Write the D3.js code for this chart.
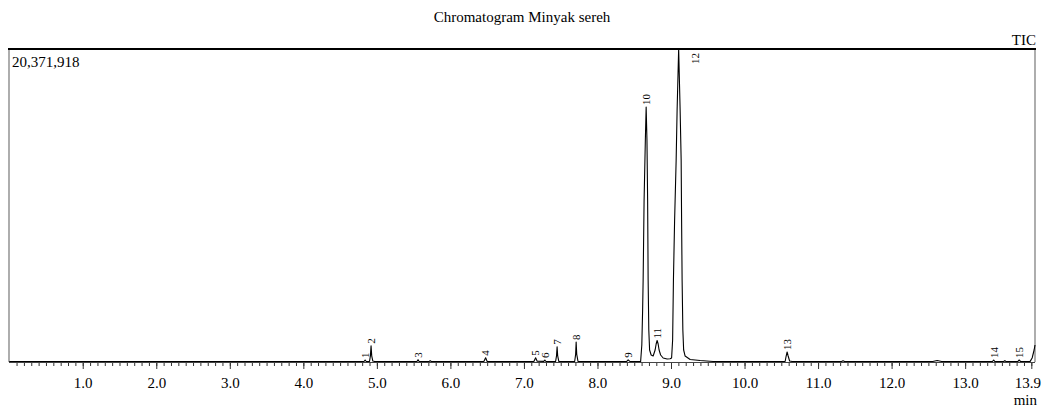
<!DOCTYPE html>
<html>
<head>
<meta charset="utf-8">
<script src="https://cdn.jsdelivr.net/npm/d3@7"></script>
<style>
  body { margin: 0; background: #fff; }
  svg text { font-family: "Liberation Serif", "Times New Roman", serif; fill: #000; }
</style>
</head>
<body>
<div id="chart"></div>
<script>
// chart data
const title = "Chromatogram Minyak sereh";
const channel = "TIC";
const maxIntensity = 20371918;
const timeEnd = 13.95;

// TIC trace: retention time (min) and intensity (counts)
const traceTime = [
  0.00, 4.825, 4.840, 4.855, 4.900, 4.912, 4.921, 4.930, 4.945, 4.970,
  5.545, 5.560, 5.575, 5.710, 5.724, 5.740, 6.455, 6.479, 6.500,
  7.135, 7.159, 7.180, 7.270, 7.284, 7.300, 7.430, 7.443, 7.451, 7.459, 7.475,
  7.690, 7.703, 7.710, 7.718, 7.735, 7.760, 8.395, 8.417, 8.440,
  8.587, 8.603, 8.614, 8.621, 8.634, 8.651, 8.662, 8.673, 8.682, 8.689, 8.698, 8.709,
  8.730, 8.757, 8.784, 8.798, 8.811, 8.825, 8.838, 8.859, 8.893, 8.947, 8.988,
  9.008, 9.022, 9.033, 9.049, 9.070, 9.083, 9.104, 9.124, 9.138, 9.144, 9.151, 9.161,
  9.172, 9.192, 9.260, 9.396, 9.573,
  10.552, 10.566, 10.579, 10.593, 10.613, 10.647, 11.32, 11.34, 11.36, 12.56, 12.62, 12.68,
  13.370, 13.388, 13.405, 13.525, 13.540, 13.555, 13.715, 13.735, 13.755,
  13.884, 13.911, 13.938, 13.950
];
const traceIntensity = [
  30000, 30000, 130000, 30000, 35000, 400000, 1050000, 400000, 60000, 30000,
  30000, 150000, 30000, 30000, 90000, 30000, 30000, 280000, 30000,
  30000, 270000, 50000, 40000, 130000, 30000, 30000, 400000, 990000, 400000, 30000,
  30000, 500000, 1300000, 500000, 40000, 30000, 30000, 140000, 40000,
  33000, 1106000, 3384000, 5337000, 10544000, 14449000, 16597000, 14449000, 10544000, 5337000, 2083000, 781000,
  456000, 390000, 781000, 1172000, 1399000, 1172000, 781000, 456000, 260000, 195000, 208000,
  260000, 1432000, 5337000, 9242000, 13147000, 16402000, 20371918, 16402000, 13147000, 9242000, 5337000, 2083000,
  781000, 390000, 163000, 98000, 33000,
  33000, 390000, 651000, 390000, 65000, 30000, 30000, 80000, 30000, 30000, 100000, 30000,
  30000, 130000, 30000, 30000, 90000, 30000, 30000, 130000, 30000,
  40000, 260000, 781000, 1106000
];

// peak labels
const peakNo = [1, 2, 3, 4, 5, 6, 7, 8, 9, 10, 11, 12, 13, 14, 15];
const peakTime = [4.840, 4.921, 5.560, 6.479, 7.159, 7.284, 7.451, 7.710, 8.417, 8.662, 8.811, 9.104, 10.579, 13.388, 13.735];
const peakTop = [130000, 1050000, 150000, 280000, 270000, 130000, 990000, 1300000, 140000, 16597000, 1399000, 20371918, 651000, 130000, 130000];

// axis ticks
const majorTicks = [1, 2, 3, 4, 5, 6, 7, 8, 9, 10, 11, 12, 13, 13.9];
const minorTicks = d3.range(1, 140).map(i => i / 10);

const width = 1042, height = 410;
const plotLeft = 9.2, plotRight = 1035, plotTop = 49, plotBottom = 362;

const svg = d3.select("#chart").append("svg")
  .attr("width", width)
  .attr("height", height);

const x = d3.scaleLinear().domain([0, timeEnd]).range([plotLeft, plotRight]);
const y = d3.scaleLinear().domain([0, maxIntensity]).range([plotBottom, plotTop]);

// title + labels
svg.append("text")
  .attr("x", 522).attr("y", 22)
  .attr("text-anchor", "middle")
  .attr("font-size", 15)
  .text(title);

svg.append("text")
  .attr("x", 1036).attr("y", 45)
  .attr("text-anchor", "end")
  .attr("font-size", 15)
  .text(channel);

svg.append("text")
  .attr("x", 12).attr("y", 67)
  .attr("font-size", 15)
  .text(d3.format(",")(maxIntensity));

svg.append("text")
  .attr("x", 1037).attr("y", 405)
  .attr("text-anchor", "end")
  .attr("font-size", 15)
  .text("min");

// frame
svg.append("line")
  .attr("x1", 9).attr("x2", 9).attr("y1", plotTop).attr("y2", plotBottom)
  .attr("stroke", "#777").attr("stroke-width", 1.2);
svg.append("line")
  .attr("x1", plotRight).attr("x2", plotRight).attr("y1", plotTop).attr("y2", plotBottom)
  .attr("stroke", "#777").attr("stroke-width", 1.2);
svg.append("line")
  .attr("x1", 8).attr("x2", plotRight + 1).attr("y1", plotTop).attr("y2", plotTop)
  .attr("stroke", "#000").attr("stroke-width", 2);

// axes
const minorAxis = d3.axisBottom(x).tickValues(minorTicks).tickSize(4).tickFormat("");
const majorAxis = d3.axisBottom(x).tickValues(majorTicks).tickSize(7).tickPadding(8)
  .tickFormat(d3.format(".1f"));

const gMinor = svg.append("g").attr("transform", `translate(0,${plotBottom})`).call(minorAxis);
const gMajor = svg.append("g").attr("transform", `translate(0,${plotBottom})`).call(majorAxis);
gMinor.select(".domain").remove();
gMajor.select(".domain").remove();
svg.selectAll(".tick line").attr("stroke", "#333");
gMajor.selectAll(".tick text")
  .attr("font-size", 15)
  .attr("font-family", "Liberation Serif, Times New Roman, serif")
  .attr("fill", "#000")
  .attr("dx", d => d === 13.9 ? -4 : 0);

svg.append("line")
  .attr("x1", 9).attr("x2", plotRight).attr("y1", plotBottom + 0.5).attr("y2", plotBottom + 0.5)
  .attr("stroke", "#444").attr("stroke-width", 1);

// trace
const points = traceTime.map((t, i) => [t, traceIntensity[i]]);
const line = d3.line().x(d => x(d[0])).y(d => y(d[1]));

svg.append("path")
  .datum(points)
  .attr("d", line)
  .attr("fill", "none")
  .attr("stroke", "#000")
  .attr("stroke-width", 1.1)
  .attr("stroke-linejoin", "round");

// peak numbers, rotated
peakNo.forEach((n, i) => {
  let px = x(peakTime[i]);
  let py = y(peakTop[i]) - 2;
  if (peakTop[i] >= maxIntensity) {   // top peak: label moved to the right
    px += 16;
    py = plotTop + 15;
  }
  svg.append("text")
    .attr("transform", `translate(${px},${py}) rotate(-90)`)
    .attr("dy", "0.35em")
    .attr("font-size", 11)
    .text(n);
});
</script>
</body>
</html>
